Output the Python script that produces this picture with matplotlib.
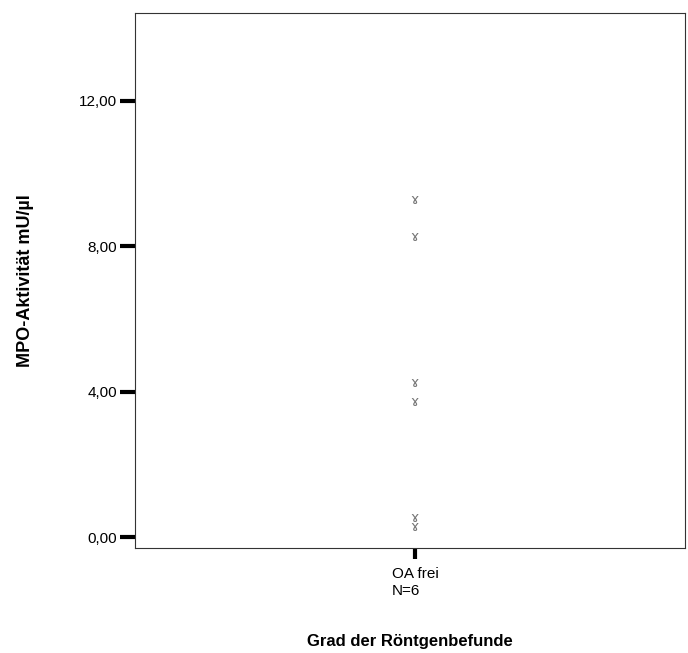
import matplotlib
matplotlib.use("Agg")
import matplotlib.pyplot as plt

# data
group = "OA frei\nN=6"
mpo_values = [9.28, 8.26, 4.24, 3.72, 0.52, 0.28]
y_ticks = [0, 4, 8, 12]
y_tick_labels = ["0,00", "4,00", "8,00", "12,00"]

plt.rcParams["font.family"] = ["Liberation Sans", "DejaVu Sans"]

fig = plt.figure(figsize=(6.88, 6.53), dpi=100)
ax = fig.add_axes([135 / 688, 1 - 548 / 653, 550 / 688, 535 / 653])

xpos = 0.509
for v in mpo_values:
    ax.text(xpos, v, "\u0264", ha="center", va="center", fontsize=10,
            color="#777777", family=["DejaVu Sans"])

ax.set_xlim(0, 1)
ax.set_ylim(-0.30, 14.42)
ax.set_yticks(y_ticks)
ax.set_yticklabels(y_tick_labels, fontsize=11)
ax.set_xticks([xpos])
ax.set_xticklabels([group], fontsize=11, multialignment="left")
ax.tick_params(axis="y", length=11, width=3, color="black", pad=2)
ax.tick_params(axis="x", length=8, width=3, color="black", pad=6)

for s in ax.spines.values():
    s.set_linewidth(0.8)
    s.set_color("#333333")

ax.set_ylabel("MPO-Aktivität mU/µl", fontsize=13, fontweight="bold", labelpad=32)
ax.set_xlabel("Grad der Röntgenbefunde", fontsize=12, fontweight="bold", labelpad=26)

fig.savefig("out.png", dpi=100)
